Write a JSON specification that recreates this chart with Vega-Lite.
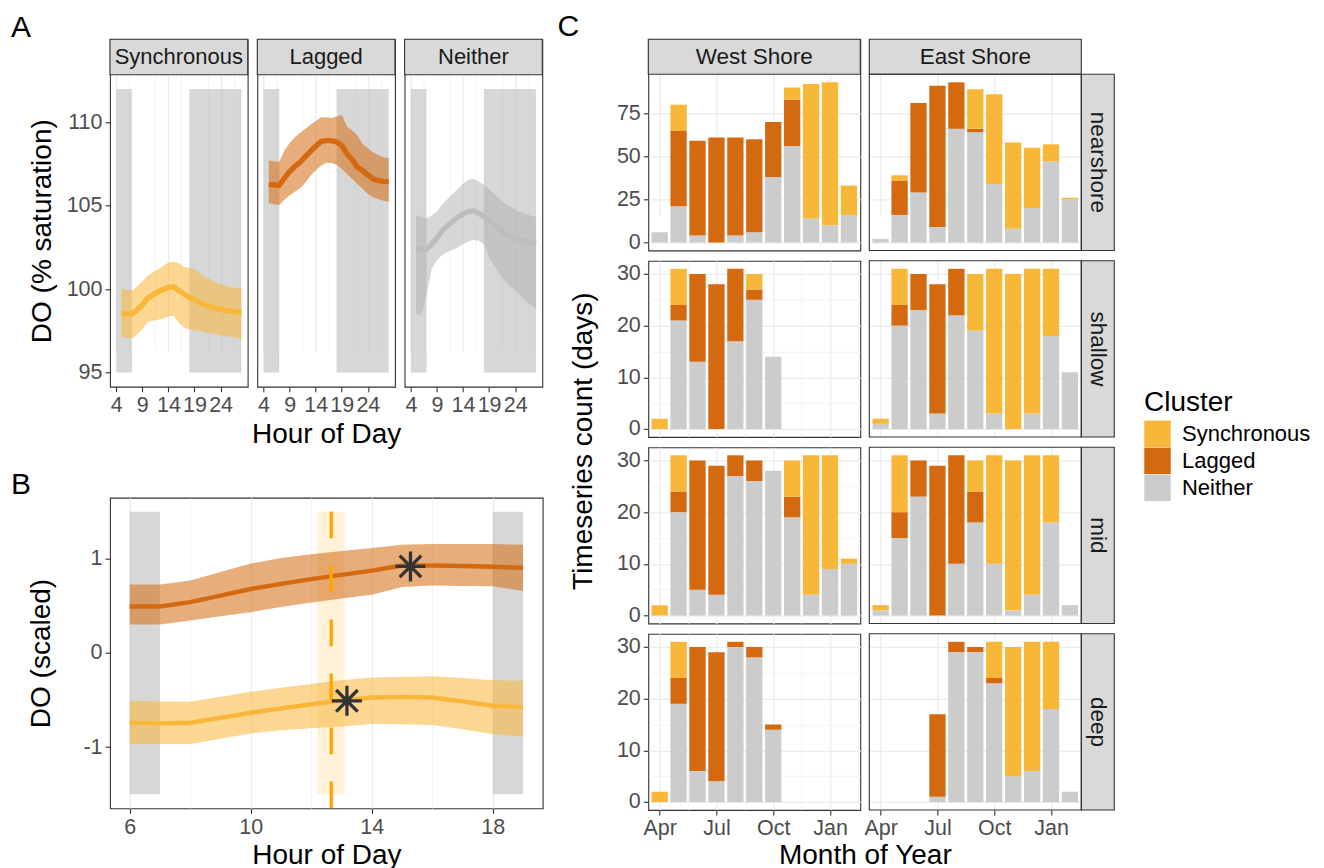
{
"$schema": "https://vega.github.io/schema/vega-lite/v6.json",
"padding": {"left": 10, "top": 11.3, "right": 5, "bottom": 0},
"datasets": {
"lineA": [
{"cluster":"Synchronous","hour":5,"mean":98.58,"lo":97.14,"hi":100.02},
{"cluster":"Synchronous","hour":6,"mean":98.52,"lo":97.08,"hi":99.96},
{"cluster":"Synchronous","hour":7,"mean":98.5,"lo":97.04,"hi":99.9},
{"cluster":"Synchronous","hour":8,"mean":98.75,"lo":97.3,"hi":100.15},
{"cluster":"Synchronous","hour":9,"mean":99.05,"lo":97.6,"hi":100.45},
{"cluster":"Synchronous","hour":10,"mean":99.45,"lo":98.0,"hi":100.8},
{"cluster":"Synchronous","hour":11,"mean":99.65,"lo":98.1,"hi":101.0},
{"cluster":"Synchronous","hour":12,"mean":99.83,"lo":98.17,"hi":101.17},
{"cluster":"Synchronous","hour":13,"mean":99.98,"lo":98.22,"hi":101.4},
{"cluster":"Synchronous","hour":14,"mean":100.1,"lo":98.35,"hi":101.6},
{"cluster":"Synchronous","hour":15,"mean":100.15,"lo":98.4,"hi":101.64},
{"cluster":"Synchronous","hour":16,"mean":99.9,"lo":97.95,"hi":101.55},
{"cluster":"Synchronous","hour":17,"mean":99.7,"lo":97.7,"hi":101.32},
{"cluster":"Synchronous","hour":18,"mean":99.5,"lo":97.58,"hi":101.26},
{"cluster":"Synchronous","hour":19,"mean":99.36,"lo":97.53,"hi":101.2},
{"cluster":"Synchronous","hour":20,"mean":99.18,"lo":97.47,"hi":100.95},
{"cluster":"Synchronous","hour":21,"mean":99.08,"lo":97.42,"hi":100.74},
{"cluster":"Synchronous","hour":22,"mean":98.95,"lo":97.35,"hi":100.6},
{"cluster":"Synchronous","hour":23,"mean":98.84,"lo":97.28,"hi":100.4},
{"cluster":"Synchronous","hour":24,"mean":98.78,"lo":97.22,"hi":100.3},
{"cluster":"Synchronous","hour":25,"mean":98.72,"lo":97.18,"hi":100.18},
{"cluster":"Synchronous","hour":26,"mean":98.68,"lo":97.14,"hi":100.1},
{"cluster":"Synchronous","hour":27,"mean":98.64,"lo":97.08,"hi":100.06},
{"cluster":"Synchronous","hour":28,"mean":98.6,"lo":96.98,"hi":100.04},
{"cluster":"Lagged","hour":5,"mean":106.28,"lo":105.14,"hi":107.7},
{"cluster":"Lagged","hour":6,"mean":106.25,"lo":105.08,"hi":107.67},
{"cluster":"Lagged","hour":7,"mean":106.22,"lo":105.04,"hi":107.64},
{"cluster":"Lagged","hour":8,"mean":106.65,"lo":105.35,"hi":108.3},
{"cluster":"Lagged","hour":9,"mean":107.05,"lo":105.62,"hi":108.75},
{"cluster":"Lagged","hour":10,"mean":107.35,"lo":105.84,"hi":109.1},
{"cluster":"Lagged","hour":11,"mean":107.6,"lo":106.05,"hi":109.35},
{"cluster":"Lagged","hour":12,"mean":107.94,"lo":106.38,"hi":109.6},
{"cluster":"Lagged","hour":13,"mean":108.25,"lo":106.8,"hi":109.85},
{"cluster":"Lagged","hour":14,"mean":108.56,"lo":107.13,"hi":110.07},
{"cluster":"Lagged","hour":15,"mean":108.85,"lo":107.4,"hi":110.3},
{"cluster":"Lagged","hour":16,"mean":108.9,"lo":107.58,"hi":110.3},
{"cluster":"Lagged","hour":17,"mean":108.9,"lo":107.56,"hi":110.25},
{"cluster":"Lagged","hour":18,"mean":108.82,"lo":107.46,"hi":110.35},
{"cluster":"Lagged","hour":19,"mean":108.6,"lo":107.2,"hi":110.44},
{"cluster":"Lagged","hour":20,"mean":108.1,"lo":106.9,"hi":109.75},
{"cluster":"Lagged","hour":21,"mean":107.75,"lo":106.6,"hi":109.5},
{"cluster":"Lagged","hour":22,"mean":107.32,"lo":106.3,"hi":109.2},
{"cluster":"Lagged","hour":23,"mean":107.1,"lo":106.0,"hi":108.7},
{"cluster":"Lagged","hour":24,"mean":106.85,"lo":105.7,"hi":108.45},
{"cluster":"Lagged","hour":25,"mean":106.6,"lo":105.5,"hi":108.18},
{"cluster":"Lagged","hour":26,"mean":106.5,"lo":105.38,"hi":108.04},
{"cluster":"Lagged","hour":27,"mean":106.46,"lo":105.3,"hi":107.9},
{"cluster":"Lagged","hour":28,"mean":106.44,"lo":105.24,"hi":107.84},
{"cluster":"Neither","hour":5,"mean":102.44,"lo":98.54,"hi":104.44},
{"cluster":"Neither","hour":6,"mean":102.4,"lo":98.4,"hi":104.3},
{"cluster":"Neither","hour":7,"mean":102.4,"lo":99.6,"hi":104.25},
{"cluster":"Neither","hour":8,"mean":102.7,"lo":101.2,"hi":104.4},
{"cluster":"Neither","hour":9,"mean":103.05,"lo":101.75,"hi":104.65},
{"cluster":"Neither","hour":10,"mean":103.5,"lo":102.05,"hi":105.05},
{"cluster":"Neither","hour":11,"mean":103.8,"lo":102.22,"hi":105.4},
{"cluster":"Neither","hour":12,"mean":104.05,"lo":102.35,"hi":105.7},
{"cluster":"Neither","hour":13,"mean":104.3,"lo":102.5,"hi":106.0},
{"cluster":"Neither","hour":14,"mean":104.5,"lo":102.7,"hi":106.3},
{"cluster":"Neither","hour":15,"mean":104.65,"lo":102.85,"hi":106.55},
{"cluster":"Neither","hour":16,"mean":104.7,"lo":102.95,"hi":106.62},
{"cluster":"Neither","hour":17,"mean":104.55,"lo":102.9,"hi":106.45},
{"cluster":"Neither","hour":18,"mean":104.35,"lo":102.7,"hi":106.25},
{"cluster":"Neither","hour":19,"mean":104.1,"lo":101.9,"hi":106.0},
{"cluster":"Neither","hour":20,"mean":103.86,"lo":101.4,"hi":105.7},
{"cluster":"Neither","hour":21,"mean":103.6,"lo":100.9,"hi":105.4},
{"cluster":"Neither","hour":22,"mean":103.35,"lo":100.5,"hi":105.15},
{"cluster":"Neither","hour":23,"mean":103.2,"lo":100.15,"hi":104.95},
{"cluster":"Neither","hour":24,"mean":103.05,"lo":99.95,"hi":104.75},
{"cluster":"Neither","hour":25,"mean":102.95,"lo":99.6,"hi":104.62},
{"cluster":"Neither","hour":26,"mean":102.88,"lo":99.3,"hi":104.5},
{"cluster":"Neither","hour":27,"mean":102.8,"lo":99.05,"hi":104.4},
{"cluster":"Neither","hour":28,"mean":102.74,"lo":98.84,"hi":104.33}
],
"lineB": [
{"cluster":"Lagged","hour":6,"mean":0.494,"lo":0.303,"hi":0.727},
{"cluster":"Lagged","hour":7,"mean":0.494,"lo":0.303,"hi":0.727},
{"cluster":"Lagged","hour":8,"mean":0.54,"lo":0.346,"hi":0.77},
{"cluster":"Lagged","hour":9,"mean":0.61,"lo":0.39,"hi":0.86},
{"cluster":"Lagged","hour":10,"mean":0.68,"lo":0.434,"hi":0.95},
{"cluster":"Lagged","hour":11,"mean":0.735,"lo":0.49,"hi":1.01},
{"cluster":"Lagged","hour":12,"mean":0.785,"lo":0.537,"hi":1.05},
{"cluster":"Lagged","hour":13,"mean":0.83,"lo":0.58,"hi":1.085},
{"cluster":"Lagged","hour":14,"mean":0.875,"lo":0.62,"hi":1.115},
{"cluster":"Lagged","hour":15,"mean":0.93,"lo":0.7,"hi":1.15},
{"cluster":"Lagged","hour":16,"mean":0.93,"lo":0.716,"hi":1.157},
{"cluster":"Lagged","hour":17,"mean":0.925,"lo":0.712,"hi":1.157},
{"cluster":"Lagged","hour":18,"mean":0.917,"lo":0.709,"hi":1.157},
{"cluster":"Lagged","hour":19,"mean":0.905,"lo":0.66,"hi":1.15},
{"cluster":"Synchronous","hour":6,"mean":-0.741,"lo":-0.966,"hi":-0.508},
{"cluster":"Synchronous","hour":7,"mean":-0.748,"lo":-0.966,"hi":-0.515},
{"cluster":"Synchronous","hour":8,"mean":-0.741,"lo":-0.966,"hi":-0.519},
{"cluster":"Synchronous","hour":9,"mean":-0.69,"lo":-0.91,"hi":-0.466},
{"cluster":"Synchronous","hour":10,"mean":-0.635,"lo":-0.854,"hi":-0.413},
{"cluster":"Synchronous","hour":11,"mean":-0.59,"lo":-0.822,"hi":-0.37},
{"cluster":"Synchronous","hour":12,"mean":-0.545,"lo":-0.8,"hi":-0.33},
{"cluster":"Synchronous","hour":13,"mean":-0.505,"lo":-0.78,"hi":-0.29},
{"cluster":"Synchronous","hour":14,"mean":-0.473,"lo":-0.755,"hi":-0.261},
{"cluster":"Synchronous","hour":15,"mean":-0.466,"lo":-0.758,"hi":-0.252},
{"cluster":"Synchronous","hour":16,"mean":-0.473,"lo":-0.765,"hi":-0.247},
{"cluster":"Synchronous","hour":17,"mean":-0.515,"lo":-0.81,"hi":-0.265},
{"cluster":"Synchronous","hour":18,"mean":-0.561,"lo":-0.861,"hi":-0.289},
{"cluster":"Synchronous","hour":19,"mean":-0.575,"lo":-0.89,"hi":-0.296}
],
"nightA": [{"start":4,"end":7},{"start":18,"end":28}],
"nightB": [{"start":6,"end":7},{"start":18,"end":19}],
"peaks": [{"cluster":"Lagged","hour":15.28,"value":0.92},{"cluster":"Synchronous","hour":13.18,"value":-0.508}],
"onset": [{"hour":12.66,"lo":12.2,"hi":13.1}],
"counts": [
{"depth":"nearshore","shore":"West Shore","month":4,"cluster":"Neither","n":6},
{"depth":"nearshore","shore":"West Shore","month":5,"cluster":"Neither","n":21},
{"depth":"nearshore","shore":"West Shore","month":5,"cluster":"Lagged","n":44},
{"depth":"nearshore","shore":"West Shore","month":5,"cluster":"Synchronous","n":15},
{"depth":"nearshore","shore":"West Shore","month":6,"cluster":"Neither","n":4},
{"depth":"nearshore","shore":"West Shore","month":6,"cluster":"Lagged","n":55},
{"depth":"nearshore","shore":"West Shore","month":7,"cluster":"Lagged","n":61},
{"depth":"nearshore","shore":"West Shore","month":8,"cluster":"Neither","n":4},
{"depth":"nearshore","shore":"West Shore","month":8,"cluster":"Lagged","n":57},
{"depth":"nearshore","shore":"West Shore","month":9,"cluster":"Neither","n":6},
{"depth":"nearshore","shore":"West Shore","month":9,"cluster":"Lagged","n":54},
{"depth":"nearshore","shore":"West Shore","month":10,"cluster":"Neither","n":38},
{"depth":"nearshore","shore":"West Shore","month":10,"cluster":"Lagged","n":32},
{"depth":"nearshore","shore":"West Shore","month":11,"cluster":"Neither","n":56},
{"depth":"nearshore","shore":"West Shore","month":11,"cluster":"Lagged","n":27},
{"depth":"nearshore","shore":"West Shore","month":11,"cluster":"Synchronous","n":7},
{"depth":"nearshore","shore":"West Shore","month":12,"cluster":"Neither","n":14},
{"depth":"nearshore","shore":"West Shore","month":12,"cluster":"Synchronous","n":78},
{"depth":"nearshore","shore":"West Shore","month":13,"cluster":"Neither","n":10},
{"depth":"nearshore","shore":"West Shore","month":13,"cluster":"Synchronous","n":83},
{"depth":"nearshore","shore":"West Shore","month":14,"cluster":"Neither","n":16},
{"depth":"nearshore","shore":"West Shore","month":14,"cluster":"Synchronous","n":17},
{"depth":"nearshore","shore":"East Shore","month":4,"cluster":"Neither","n":2},
{"depth":"nearshore","shore":"East Shore","month":5,"cluster":"Neither","n":16},
{"depth":"nearshore","shore":"East Shore","month":5,"cluster":"Lagged","n":20},
{"depth":"nearshore","shore":"East Shore","month":5,"cluster":"Synchronous","n":3},
{"depth":"nearshore","shore":"East Shore","month":6,"cluster":"Neither","n":29},
{"depth":"nearshore","shore":"East Shore","month":6,"cluster":"Lagged","n":52},
{"depth":"nearshore","shore":"East Shore","month":7,"cluster":"Neither","n":9},
{"depth":"nearshore","shore":"East Shore","month":7,"cluster":"Lagged","n":82},
{"depth":"nearshore","shore":"East Shore","month":8,"cluster":"Neither","n":66},
{"depth":"nearshore","shore":"East Shore","month":8,"cluster":"Lagged","n":27},
{"depth":"nearshore","shore":"East Shore","month":9,"cluster":"Neither","n":64},
{"depth":"nearshore","shore":"East Shore","month":9,"cluster":"Lagged","n":2},
{"depth":"nearshore","shore":"East Shore","month":9,"cluster":"Synchronous","n":23},
{"depth":"nearshore","shore":"East Shore","month":10,"cluster":"Neither","n":34},
{"depth":"nearshore","shore":"East Shore","month":10,"cluster":"Synchronous","n":52},
{"depth":"nearshore","shore":"East Shore","month":11,"cluster":"Neither","n":8},
{"depth":"nearshore","shore":"East Shore","month":11,"cluster":"Synchronous","n":50},
{"depth":"nearshore","shore":"East Shore","month":12,"cluster":"Neither","n":20},
{"depth":"nearshore","shore":"East Shore","month":12,"cluster":"Synchronous","n":35},
{"depth":"nearshore","shore":"East Shore","month":13,"cluster":"Neither","n":47},
{"depth":"nearshore","shore":"East Shore","month":13,"cluster":"Synchronous","n":10},
{"depth":"nearshore","shore":"East Shore","month":14,"cluster":"Neither","n":25},
{"depth":"nearshore","shore":"East Shore","month":14,"cluster":"Synchronous","n":1},
{"depth":"shallow","shore":"West Shore","month":4,"cluster":"Synchronous","n":2},
{"depth":"shallow","shore":"West Shore","month":5,"cluster":"Neither","n":21},
{"depth":"shallow","shore":"West Shore","month":5,"cluster":"Lagged","n":3},
{"depth":"shallow","shore":"West Shore","month":5,"cluster":"Synchronous","n":7},
{"depth":"shallow","shore":"West Shore","month":6,"cluster":"Neither","n":13},
{"depth":"shallow","shore":"West Shore","month":6,"cluster":"Lagged","n":17},
{"depth":"shallow","shore":"West Shore","month":7,"cluster":"Lagged","n":28},
{"depth":"shallow","shore":"West Shore","month":8,"cluster":"Neither","n":17},
{"depth":"shallow","shore":"West Shore","month":8,"cluster":"Lagged","n":14},
{"depth":"shallow","shore":"West Shore","month":9,"cluster":"Neither","n":25},
{"depth":"shallow","shore":"West Shore","month":9,"cluster":"Lagged","n":2},
{"depth":"shallow","shore":"West Shore","month":9,"cluster":"Synchronous","n":3},
{"depth":"shallow","shore":"West Shore","month":10,"cluster":"Neither","n":14},
{"depth":"shallow","shore":"East Shore","month":4,"cluster":"Neither","n":1},
{"depth":"shallow","shore":"East Shore","month":4,"cluster":"Synchronous","n":1},
{"depth":"shallow","shore":"East Shore","month":5,"cluster":"Neither","n":20},
{"depth":"shallow","shore":"East Shore","month":5,"cluster":"Lagged","n":4},
{"depth":"shallow","shore":"East Shore","month":5,"cluster":"Synchronous","n":7},
{"depth":"shallow","shore":"East Shore","month":6,"cluster":"Neither","n":23},
{"depth":"shallow","shore":"East Shore","month":6,"cluster":"Lagged","n":7},
{"depth":"shallow","shore":"East Shore","month":7,"cluster":"Neither","n":3},
{"depth":"shallow","shore":"East Shore","month":7,"cluster":"Lagged","n":25},
{"depth":"shallow","shore":"East Shore","month":8,"cluster":"Neither","n":22},
{"depth":"shallow","shore":"East Shore","month":8,"cluster":"Lagged","n":9},
{"depth":"shallow","shore":"East Shore","month":9,"cluster":"Neither","n":19},
{"depth":"shallow","shore":"East Shore","month":9,"cluster":"Synchronous","n":11},
{"depth":"shallow","shore":"East Shore","month":10,"cluster":"Neither","n":3},
{"depth":"shallow","shore":"East Shore","month":10,"cluster":"Synchronous","n":28},
{"depth":"shallow","shore":"East Shore","month":11,"cluster":"Synchronous","n":30},
{"depth":"shallow","shore":"East Shore","month":12,"cluster":"Neither","n":3},
{"depth":"shallow","shore":"East Shore","month":12,"cluster":"Synchronous","n":28},
{"depth":"shallow","shore":"East Shore","month":13,"cluster":"Neither","n":18},
{"depth":"shallow","shore":"East Shore","month":13,"cluster":"Synchronous","n":13},
{"depth":"shallow","shore":"East Shore","month":14,"cluster":"Neither","n":11},
{"depth":"mid","shore":"West Shore","month":4,"cluster":"Synchronous","n":2},
{"depth":"mid","shore":"West Shore","month":5,"cluster":"Neither","n":20},
{"depth":"mid","shore":"West Shore","month":5,"cluster":"Lagged","n":4},
{"depth":"mid","shore":"West Shore","month":5,"cluster":"Synchronous","n":7},
{"depth":"mid","shore":"West Shore","month":6,"cluster":"Neither","n":5},
{"depth":"mid","shore":"West Shore","month":6,"cluster":"Lagged","n":25},
{"depth":"mid","shore":"West Shore","month":7,"cluster":"Neither","n":4},
{"depth":"mid","shore":"West Shore","month":7,"cluster":"Lagged","n":25},
{"depth":"mid","shore":"West Shore","month":8,"cluster":"Neither","n":27},
{"depth":"mid","shore":"West Shore","month":8,"cluster":"Lagged","n":4},
{"depth":"mid","shore":"West Shore","month":9,"cluster":"Neither","n":26},
{"depth":"mid","shore":"West Shore","month":9,"cluster":"Lagged","n":4},
{"depth":"mid","shore":"West Shore","month":10,"cluster":"Neither","n":28},
{"depth":"mid","shore":"West Shore","month":11,"cluster":"Neither","n":19},
{"depth":"mid","shore":"West Shore","month":11,"cluster":"Lagged","n":4},
{"depth":"mid","shore":"West Shore","month":11,"cluster":"Synchronous","n":7},
{"depth":"mid","shore":"West Shore","month":12,"cluster":"Neither","n":4},
{"depth":"mid","shore":"West Shore","month":12,"cluster":"Synchronous","n":27},
{"depth":"mid","shore":"West Shore","month":13,"cluster":"Neither","n":9},
{"depth":"mid","shore":"West Shore","month":13,"cluster":"Synchronous","n":22},
{"depth":"mid","shore":"West Shore","month":14,"cluster":"Neither","n":10},
{"depth":"mid","shore":"West Shore","month":14,"cluster":"Synchronous","n":1},
{"depth":"mid","shore":"East Shore","month":4,"cluster":"Neither","n":1},
{"depth":"mid","shore":"East Shore","month":4,"cluster":"Synchronous","n":1},
{"depth":"mid","shore":"East Shore","month":5,"cluster":"Neither","n":15},
{"depth":"mid","shore":"East Shore","month":5,"cluster":"Lagged","n":5},
{"depth":"mid","shore":"East Shore","month":5,"cluster":"Synchronous","n":11},
{"depth":"mid","shore":"East Shore","month":6,"cluster":"Neither","n":23},
{"depth":"mid","shore":"East Shore","month":6,"cluster":"Lagged","n":7},
{"depth":"mid","shore":"East Shore","month":7,"cluster":"Lagged","n":29},
{"depth":"mid","shore":"East Shore","month":8,"cluster":"Neither","n":10},
{"depth":"mid","shore":"East Shore","month":8,"cluster":"Lagged","n":21},
{"depth":"mid","shore":"East Shore","month":9,"cluster":"Neither","n":18},
{"depth":"mid","shore":"East Shore","month":9,"cluster":"Lagged","n":6},
{"depth":"mid","shore":"East Shore","month":9,"cluster":"Synchronous","n":6},
{"depth":"mid","shore":"East Shore","month":10,"cluster":"Neither","n":10},
{"depth":"mid","shore":"East Shore","month":10,"cluster":"Synchronous","n":21},
{"depth":"mid","shore":"East Shore","month":11,"cluster":"Neither","n":1},
{"depth":"mid","shore":"East Shore","month":11,"cluster":"Synchronous","n":29},
{"depth":"mid","shore":"East Shore","month":12,"cluster":"Neither","n":4},
{"depth":"mid","shore":"East Shore","month":12,"cluster":"Synchronous","n":27},
{"depth":"mid","shore":"East Shore","month":13,"cluster":"Neither","n":18},
{"depth":"mid","shore":"East Shore","month":13,"cluster":"Synchronous","n":13},
{"depth":"mid","shore":"East Shore","month":14,"cluster":"Neither","n":2},
{"depth":"deep","shore":"West Shore","month":4,"cluster":"Synchronous","n":2},
{"depth":"deep","shore":"West Shore","month":5,"cluster":"Neither","n":19},
{"depth":"deep","shore":"West Shore","month":5,"cluster":"Lagged","n":5},
{"depth":"deep","shore":"West Shore","month":5,"cluster":"Synchronous","n":7},
{"depth":"deep","shore":"West Shore","month":6,"cluster":"Neither","n":6},
{"depth":"deep","shore":"West Shore","month":6,"cluster":"Lagged","n":24},
{"depth":"deep","shore":"West Shore","month":7,"cluster":"Neither","n":4},
{"depth":"deep","shore":"West Shore","month":7,"cluster":"Lagged","n":25},
{"depth":"deep","shore":"West Shore","month":8,"cluster":"Neither","n":30},
{"depth":"deep","shore":"West Shore","month":8,"cluster":"Lagged","n":1},
{"depth":"deep","shore":"West Shore","month":9,"cluster":"Neither","n":28},
{"depth":"deep","shore":"West Shore","month":9,"cluster":"Lagged","n":2},
{"depth":"deep","shore":"West Shore","month":10,"cluster":"Neither","n":14},
{"depth":"deep","shore":"West Shore","month":10,"cluster":"Lagged","n":1},
{"depth":"deep","shore":"East Shore","month":7,"cluster":"Neither","n":1},
{"depth":"deep","shore":"East Shore","month":7,"cluster":"Lagged","n":16},
{"depth":"deep","shore":"East Shore","month":8,"cluster":"Neither","n":29},
{"depth":"deep","shore":"East Shore","month":8,"cluster":"Lagged","n":2},
{"depth":"deep","shore":"East Shore","month":9,"cluster":"Neither","n":29},
{"depth":"deep","shore":"East Shore","month":9,"cluster":"Lagged","n":1},
{"depth":"deep","shore":"East Shore","month":10,"cluster":"Neither","n":23},
{"depth":"deep","shore":"East Shore","month":10,"cluster":"Lagged","n":1},
{"depth":"deep","shore":"East Shore","month":10,"cluster":"Synchronous","n":7},
{"depth":"deep","shore":"East Shore","month":11,"cluster":"Neither","n":5},
{"depth":"deep","shore":"East Shore","month":11,"cluster":"Synchronous","n":25},
{"depth":"deep","shore":"East Shore","month":12,"cluster":"Neither","n":6},
{"depth":"deep","shore":"East Shore","month":12,"cluster":"Synchronous","n":25},
{"depth":"deep","shore":"East Shore","month":13,"cluster":"Neither","n":18},
{"depth":"deep","shore":"East Shore","month":13,"cluster":"Synchronous","n":13},
{"depth":"deep","shore":"East Shore","month":14,"cluster":"Neither","n":2}
]
},
"spacing": 9.3,
"hconcat": [
{
"spacing": 19.4,
"vconcat": [
{"spacing": 9.3, "bounds": "flush", "hconcat": [
{"title": {"text": "A", "dx": -99, "offset": -4},
"width": 137.7, "height": 347.4,
"resolve": {"axis": {"x": "independent"}},
"layer": [
{"data": {"name": "nightA"}, "mark": {"type": "rect", "color": "#BDBDBD", "opacity": 0.6},
"encoding": {
"x": {"field": "start", "type": "quantitative", "scale": {"domain": [2.8, 29.2], "nice": false, "zero": false}, "axis": {"orient": "bottom", "title": null, "labelOverlap": false, "values": [4,6.5,11.5,14,16.5,21.5,24,26.5], "labelExpr": "datum.value % 10 == 4 ? datum.label : ''", "tickOpacity": {"condition": {"test": "datum.value % 10 != 4", "value": 0}, "value": 1}, "gridWidth": {"condition": {"test": "datum.value % 5 != 4", "value": 0.6}, "value": 1.2}}},
"x2": {"field": "end"},
"y": {"datum": 95, "type": "quantitative", "scale": {"domain": [94.15, 112.85], "range": [347.4, 35.4], "nice": false, "zero": false}, "axis": {"title": "DO (% saturation)", "titlePadding": 10, "values": [95,97.5,100,102.5,105,107.5,110,112.5], "labelExpr": "datum.value % 5 == 0 ? datum.label : ''", "tickOpacity": {"condition": {"test": "datum.value % 5 != 0", "value": 0}, "value": 1}, "gridWidth": {"condition": {"test": "datum.value % 5 != 0", "value": 0.6}, "value": 1.2}}},
"y2": {"datum": 112}}},
{"data": {"name": "lineA"}, "transform": [{"filter": "datum.cluster == 'Synchronous'"}], "mark": {"type": "area", "color": "#F8B739", "opacity": 0.55}, "encoding": {"x": {"field": "hour", "type": "quantitative", "axis": {"orient": "bottom", "title": null, "labelOverlap": false, "values": [9, 19], "gridWidth": 1.2}}, "y": {"field": "lo", "type": "quantitative"}, "y2": {"field": "hi"}}},
{"data": {"name": "lineA"}, "transform": [{"filter": "datum.cluster == 'Synchronous'"}], "mark": {"type": "line", "color": "#F8B739", "strokeWidth": 5.3}, "encoding": {"x": {"field": "hour", "type": "quantitative", "axis": null}, "y": {"field": "mean", "type": "quantitative"}}},
{"data": {"values": [{"lab": "Synchronous"}]}, "mark": {"type": "rect", "fill": "#D9D9D9", "stroke": "#333333", "strokeWidth": 1.1}, "encoding": {"x": {"datum": 2.8, "type": "quantitative", "axis": null}, "x2": {"datum": 29.2}, "y": {"datum": 112.85, "type": "quantitative"}, "y2": {"datum": 114.972}}},
{"data": {"values": [{"lab": "Synchronous"}]}, "mark": {"type": "text", "fontSize": 22, "color": "#1A1A1A"}, "encoding": {"x": {"datum": 16, "type": "quantitative", "axis": null}, "y": {"datum": 113.91, "type": "quantitative"}, "text": {"field": "lab"}}}
]},
{"width": 137.7, "height": 347.4,
"resolve": {"axis": {"x": "independent"}},
"layer": [
{"data": {"name": "nightA"}, "mark": {"type": "rect", "color": "#BDBDBD", "opacity": 0.6},
"encoding": {
"x": {"field": "start", "type": "quantitative", "scale": {"domain": [2.8, 29.2], "nice": false, "zero": false}, "axis": {"orient": "bottom", "title": "Hour of Day", "labelOverlap": false, "values": [4,6.5,11.5,14,16.5,21.5,24,26.5], "labelExpr": "datum.value % 10 == 4 ? datum.label : ''", "tickOpacity": {"condition": {"test": "datum.value % 10 != 4", "value": 0}, "value": 1}, "gridWidth": {"condition": {"test": "datum.value % 5 != 4", "value": 0.6}, "value": 1.2}}},
"x2": {"field": "end"},
"y": {"datum": 95, "type": "quantitative", "scale": {"domain": [94.15, 112.85], "range": [347.4, 35.4], "nice": false, "zero": false}, "axis": {"title": null, "labels": false, "ticks": false, "titlePadding": 0, "minExtent": 0, "maxExtent": 0, "values": [95,97.5,100,102.5,105,107.5,110,112.5], "gridWidth": {"condition": {"test": "datum.value % 5 != 0", "value": 0.6}, "value": 1.2}}},
"y2": {"datum": 112}}},
{"data": {"name": "lineA"}, "transform": [{"filter": "datum.cluster == 'Lagged'"}], "mark": {"type": "area", "color": "#D4690F", "opacity": 0.55}, "encoding": {"x": {"field": "hour", "type": "quantitative", "axis": {"orient": "bottom", "title": null, "labelOverlap": false, "values": [9, 19], "gridWidth": 1.2}}, "y": {"field": "lo", "type": "quantitative"}, "y2": {"field": "hi"}}},
{"data": {"name": "lineA"}, "transform": [{"filter": "datum.cluster == 'Lagged'"}], "mark": {"type": "line", "color": "#D4690F", "strokeWidth": 5.3}, "encoding": {"x": {"field": "hour", "type": "quantitative", "axis": null}, "y": {"field": "mean", "type": "quantitative"}}},
{"data": {"values": [{"lab": "Lagged"}]}, "mark": {"type": "rect", "fill": "#D9D9D9", "stroke": "#333333", "strokeWidth": 1.1}, "encoding": {"x": {"datum": 2.8, "type": "quantitative", "axis": null}, "x2": {"datum": 29.2}, "y": {"datum": 112.85, "type": "quantitative"}, "y2": {"datum": 114.972}}},
{"data": {"values": [{"lab": "Lagged"}]}, "mark": {"type": "text", "fontSize": 22, "color": "#1A1A1A"}, "encoding": {"x": {"datum": 16, "type": "quantitative", "axis": null}, "y": {"datum": 113.91, "type": "quantitative"}, "text": {"field": "lab"}}}
]},
{"width": 137.7, "height": 347.4,
"resolve": {"axis": {"x": "independent"}},
"layer": [
{"data": {"name": "nightA"}, "mark": {"type": "rect", "color": "#BDBDBD", "opacity": 0.6},
"encoding": {
"x": {"field": "start", "type": "quantitative", "scale": {"domain": [2.8, 29.2], "nice": false, "zero": false}, "axis": {"orient": "bottom", "title": null, "labelOverlap": false, "values": [4,6.5,11.5,14,16.5,21.5,24,26.5], "labelExpr": "datum.value % 10 == 4 ? datum.label : ''", "tickOpacity": {"condition": {"test": "datum.value % 10 != 4", "value": 0}, "value": 1}, "gridWidth": {"condition": {"test": "datum.value % 5 != 4", "value": 0.6}, "value": 1.2}}},
"x2": {"field": "end"},
"y": {"datum": 95, "type": "quantitative", "scale": {"domain": [94.15, 112.85], "range": [347.4, 35.4], "nice": false, "zero": false}, "axis": {"title": null, "labels": false, "ticks": false, "titlePadding": 0, "minExtent": 0, "maxExtent": 0, "values": [95,97.5,100,102.5,105,107.5,110,112.5], "gridWidth": {"condition": {"test": "datum.value % 5 != 0", "value": 0.6}, "value": 1.2}}},
"y2": {"datum": 112}}},
{"data": {"name": "lineA"}, "transform": [{"filter": "datum.cluster == 'Neither'"}], "mark": {"type": "area", "color": "#B0B0B0", "opacity": 0.5}, "encoding": {"x": {"field": "hour", "type": "quantitative", "axis": {"orient": "bottom", "title": null, "labelOverlap": false, "values": [9, 19], "gridWidth": 1.2}}, "y": {"field": "lo", "type": "quantitative"}, "y2": {"field": "hi"}}},
{"data": {"name": "lineA"}, "transform": [{"filter": "datum.cluster == 'Neither'"}], "mark": {"type": "line", "color": "#BDBDBD", "strokeWidth": 5.3}, "encoding": {"x": {"field": "hour", "type": "quantitative", "axis": null}, "y": {"field": "mean", "type": "quantitative"}}},
{"data": {"values": [{"lab": "Neither"}]}, "mark": {"type": "rect", "fill": "#D9D9D9", "stroke": "#333333", "strokeWidth": 1.1}, "encoding": {"x": {"datum": 2.8, "type": "quantitative", "axis": null}, "x2": {"datum": 29.2}, "y": {"datum": 112.85, "type": "quantitative"}, "y2": {"datum": 114.972}}},
{"data": {"values": [{"lab": "Neither"}]}, "mark": {"type": "text", "fontSize": 22, "color": "#1A1A1A"}, "encoding": {"x": {"datum": 16, "type": "quantitative", "axis": null}, "y": {"datum": 113.91, "type": "quantitative"}, "text": {"field": "lab"}}}
]}
]},
{
"title": {"text": "B", "dx": -99, "offset": -4},
"width": 432.7, "height": 310.6,
"layer": [
{"data": {"name": "nightB"}, "mark": {"type": "rect", "color": "#BDBDBD", "opacity": 0.6},
"encoding": {
"x": {"field": "start", "type": "quantitative", "scale": {"domain": [5.35, 19.65], "nice": false, "zero": false}, "axis": {"title": "Hour of Day", "labelOverlap": false, "values": [6,8,10,12,14,16,18], "labelExpr": "datum.value % 4 == 2 ? datum.label : ''", "tickOpacity": {"condition": {"test": "datum.value % 4 != 2", "value": 0}, "value": 1}, "gridWidth": {"condition": {"test": "datum.value % 4 != 2", "value": 0.6}, "value": 1.2}}},
"x2": {"field": "end"},
"y": {"datum": -1.5, "type": "quantitative", "scale": {"domain": [-1.65, 1.65], "nice": false, "zero": false}, "axis": {"title": "DO (scaled)", "titlePadding": 27, "labelOverlap": false, "values": [-1.5,-1,-0.5,0,0.5,1,1.5], "labelExpr": "datum.value == -1 ? '-1' : datum.value == 0 ? '0' : datum.value == 1 ? '1' : ''", "tickOpacity": {"condition": {"test": "datum.value % 1 != 0", "value": 0}, "value": 1}, "gridWidth": {"condition": {"test": "datum.value % 1 != 0", "value": 0.6}, "value": 1.2}}},
"y2": {"datum": 1.5}}},
{"data": {"name": "onset"}, "mark": {"type": "rect", "color": "#FFA500", "opacity": 0.15},
"encoding": {"x": {"field": "lo", "type": "quantitative"}, "x2": {"field": "hi"}, "y": {"datum": -1.5, "type": "quantitative"}, "y2": {"datum": 1.5}}},
{"data": {"name": "lineB"}, "transform": [{"filter": "datum.cluster == 'Lagged'"}], "mark": {"type": "area", "color": "#D4690F", "opacity": 0.55}, "encoding": {"x": {"field": "hour", "type": "quantitative"}, "y": {"field": "lo", "type": "quantitative"}, "y2": {"field": "hi"}}},
{"data": {"name": "lineB"}, "transform": [{"filter": "datum.cluster == 'Synchronous'"}], "mark": {"type": "area", "color": "#F8B739", "opacity": 0.55}, "encoding": {"x": {"field": "hour", "type": "quantitative"}, "y": {"field": "lo", "type": "quantitative"}, "y2": {"field": "hi"}}},
{"data": {"name": "lineB"}, "transform": [{"filter": "datum.cluster == 'Lagged'"}], "mark": {"type": "line", "color": "#D4690F", "strokeWidth": 4.4}, "encoding": {"x": {"field": "hour", "type": "quantitative"}, "y": {"field": "mean", "type": "quantitative"}}},
{"data": {"name": "lineB"}, "transform": [{"filter": "datum.cluster == 'Synchronous'"}], "mark": {"type": "line", "color": "#F8B739", "strokeWidth": 4.4}, "encoding": {"x": {"field": "hour", "type": "quantitative"}, "y": {"field": "mean", "type": "quantitative"}}},
{"data": {"name": "onset"}, "mark": {"type": "rule", "color": "#FFA500", "strokeWidth": 3.3, "strokeDash": [26.7, 27.3]},
"encoding": {"x": {"field": "hour", "type": "quantitative"}, "y": {"datum": -1.65, "type": "quantitative"}, "y2": {"datum": 1.65}}},
{"data": {"name": "peaks"}, "mark": {"type": "point", "shape": "M0,-1L0,1M-1,0L1,0M-0.72,-0.72L0.72,0.72M-0.72,0.72L0.72,-0.72", "filled": false, "stroke": "#333333", "strokeWidth": 3.3, "size": 900, "opacity": 1},
"encoding": {"x": {"field": "hour", "type": "quantitative"}, "y": {"field": "value", "type": "quantitative"}}}
]
}
]
},
{
"title": {"text": "C", "dx": -90.7, "offset": -4},
"vconcat": [
{
"title": {"text": "Timeseries count (days)", "orient": "left", "anchor": "middle", "frame": "bounds", "fontSize": 28, "offset": 18, "dx": 13},
"vconcat": [
{
"title": {"text": "Month of Year", "orient": "bottom", "anchor": "middle", "frame": "bounds", "fontSize": 28, "offset": 2},
"columns": 2,
"bounds": "flush",
"align": "each",
"spacing": {"row": 9.5, "column": 9},
"concat": [
{"width": 212, "height": 211.2, "layer": [
{"data": {"name": "counts"}, "transform": [{"filter": "datum.depth == 'nearshore' && datum.shore == 'West Shore'"}, {"calculate": "indexof(['Neither','Lagged','Synchronous'], datum.cluster)", "as": "rank"}], "mark": {"type": "bar", "width": 16.3},
"encoding": {
"x": {"field": "month", "type": "quantitative", "scale": {"domain": [3.4, 14.6], "padding": 0, "nice": false, "zero": false}, "axis": {"title": null, "labels": false, "ticks": false, "titlePadding": 0, "minExtent": 0, "maxExtent": 0, "values": [4,5.5,7,8.5,10,11.5,13,14.5], "gridWidth": {"condition": {"test": "datum.value % 3 != 1", "value": 0.6}, "value": 1.2}}},
"y": {"field": "n", "type": "quantitative", "stack": "zero", "scale": {"domain": [-4.65, 97.65], "range": [211.2, 35], "nice": false, "zero": false}, "axis": {"title": null, "labelOverlap": false, "values": [0,12.5,25,37.5,50,62.5,75,87.5], "labelExpr": "datum.value % 25 == 0 ? datum.label : ''", "tickOpacity": {"condition": {"test": "datum.value % 25 != 0", "value": 0}, "value": 1}, "gridWidth": {"condition": {"test": "datum.value % 25 != 0", "value": 0.6}, "value": 1.2}}},
"color": {"field": "cluster", "type": "nominal", "scale": {"domain": ["Synchronous","Lagged","Neither"], "range": ["#F8B739","#D4690F","#CCCCCC"]}, "legend": {"title": "Cluster", "orient": "none", "legendX": 1034, "legendY": 350}},
"order": {"field": "rank", "type": "quantitative"}}},
{"data": {"values": [{"lab": "West Shore"}]}, "mark": {"type": "rect", "fill": "#D9D9D9", "stroke": "#333333", "strokeWidth": 1.1}, "encoding": {"x": {"datum": 3.4, "type": "quantitative"}, "x2": {"datum": 14.6}, "y": {"datum": 97.65, "type": "quantitative"}, "y2": {"datum": 117.97}}},
{"data": {"values": [{"lab": "West Shore"}]}, "mark": {"type": "text", "fontSize": 22.5, "color": "#1A1A1A"}, "encoding": {"x": {"datum": 9, "type": "quantitative"}, "y": {"datum": 107.81, "type": "quantitative"}, "text": {"field": "lab"}}}
]},
{"width": 245, "height": 211.2, "view": {"stroke": null}, "layer": [
{"data": {"name": "counts"}, "transform": [{"filter": "datum.depth == 'nearshore' && datum.shore == 'East Shore'"}, {"calculate": "indexof(['Neither','Lagged','Synchronous'], datum.cluster)", "as": "rank"}], "mark": {"type": "bar", "width": 16.3},
"encoding": {
"x": {"field": "month", "type": "quantitative", "scale": {"domain": [3.4, 14.6], "range": [0, 212], "padding": 0, "nice": false, "zero": false}, "axis": {"title": null, "labels": false, "ticks": false, "titlePadding": 0, "minExtent": 0, "maxExtent": 0, "values": [4,5.5,7,8.5,10,11.5,13,14.5], "gridWidth": {"condition": {"test": "datum.value % 3 != 1", "value": 0.6}, "value": 1.2}}},
"y": {"field": "n", "type": "quantitative", "stack": "zero", "scale": {"domain": [-4.65, 97.65], "range": [211.2, 35], "nice": false, "zero": false}, "axis": {"title": null, "labels": false, "ticks": false, "titlePadding": 0, "minExtent": 0, "maxExtent": 0, "values": [0,12.5,25,37.5,50,62.5,75,87.5], "gridWidth": {"condition": {"test": "datum.value % 25 != 0", "value": 0.6}, "value": 1.2}}},
"color": {"field": "cluster", "type": "nominal", "scale": {"domain": ["Synchronous","Lagged","Neither"], "range": ["#F8B739","#D4690F","#CCCCCC"]}, "legend": {"title": "Cluster", "orient": "none", "legendX": 1034, "legendY": 350}},
"order": {"field": "rank", "type": "quantitative"}}},
{"data": {"values": [{"lab": "East Shore"}]}, "mark": {"type": "rect", "fill": "#D9D9D9", "stroke": "#333333", "strokeWidth": 1.1}, "encoding": {"x": {"datum": 3.4, "type": "quantitative"}, "x2": {"datum": 14.6}, "y": {"datum": 97.65, "type": "quantitative"}, "y2": {"datum": 117.97}}},
{"data": {"values": [{"lab": "East Shore"}]}, "mark": {"type": "text", "fontSize": 22.5, "color": "#1A1A1A"}, "encoding": {"x": {"datum": 9, "type": "quantitative"}, "y": {"datum": 107.81, "type": "quantitative"}, "text": {"field": "lab"}}},
{"data": {"values": [{"lab": "nearshore"}]}, "mark": {"type": "rect", "fill": "#D9D9D9", "stroke": "#333333", "strokeWidth": 1.1}, "encoding": {"x": {"datum": 14.6, "type": "quantitative"}, "x2": {"datum": 16.343}, "y": {"datum": -4.65, "type": "quantitative"}, "y2": {"datum": 97.65}}},
{"data": {"values": [{"lab": "nearshore"}]}, "mark": {"type": "text", "fontSize": 22.5, "angle": 90, "color": "#1A1A1A"}, "encoding": {"x": {"datum": 15.47, "type": "quantitative"}, "y": {"datum": 46.5, "type": "quantitative"}, "text": {"field": "lab"}}},
{"data": {"values": [{"lab": "border"}]}, "mark": {"type": "rect", "fill": "transparent", "stroke": "#333333", "strokeWidth": 1.1}, "encoding": {"x": {"datum": 3.4, "type": "quantitative"}, "x2": {"datum": 14.6}, "y": {"datum": -4.65, "type": "quantitative"}, "y2": {"datum": 97.65}}}
]},
{"width": 212, "height": 176.2, "layer": [
{"data": {"name": "counts"}, "transform": [{"filter": "datum.depth == 'shallow' && datum.shore == 'West Shore'"}, {"calculate": "indexof(['Neither','Lagged','Synchronous'], datum.cluster)", "as": "rank"}], "mark": {"type": "bar", "width": 16.3},
"encoding": {
"x": {"field": "month", "type": "quantitative", "scale": {"domain": [3.4, 14.6], "padding": 0, "nice": false, "zero": false}, "axis": {"title": null, "labels": false, "ticks": false, "titlePadding": 0, "minExtent": 0, "maxExtent": 0, "values": [4,5.5,7,8.5,10,11.5,13,14.5], "gridWidth": {"condition": {"test": "datum.value % 3 != 1", "value": 0.6}, "value": 1.2}}},
"y": {"field": "n", "type": "quantitative", "stack": "zero", "scale": {"domain": [-1.55, 32.55], "nice": false, "zero": false}, "axis": {"title": null, "labelOverlap": false, "values": [0,5,10,15,20,25,30], "labelExpr": "datum.value % 10 == 0 ? datum.label : ''", "tickOpacity": {"condition": {"test": "datum.value % 10 != 0", "value": 0}, "value": 1}, "gridWidth": {"condition": {"test": "datum.value % 10 != 0", "value": 0.6}, "value": 1.2}}},
"color": {"field": "cluster", "type": "nominal", "scale": {"domain": ["Synchronous","Lagged","Neither"], "range": ["#F8B739","#D4690F","#CCCCCC"]}, "legend": {"title": "Cluster", "orient": "none", "legendX": 1034, "legendY": 350}},
"order": {"field": "rank", "type": "quantitative"}}}
]},
{"width": 245, "height": 176.2, "view": {"stroke": null}, "layer": [
{"data": {"name": "counts"}, "transform": [{"filter": "datum.depth == 'shallow' && datum.shore == 'East Shore'"}, {"calculate": "indexof(['Neither','Lagged','Synchronous'], datum.cluster)", "as": "rank"}], "mark": {"type": "bar", "width": 16.3},
"encoding": {
"x": {"field": "month", "type": "quantitative", "scale": {"domain": [3.4, 14.6], "range": [0, 212], "padding": 0, "nice": false, "zero": false}, "axis": {"title": null, "labels": false, "ticks": false, "titlePadding": 0, "minExtent": 0, "maxExtent": 0, "values": [4,5.5,7,8.5,10,11.5,13,14.5], "gridWidth": {"condition": {"test": "datum.value % 3 != 1", "value": 0.6}, "value": 1.2}}},
"y": {"field": "n", "type": "quantitative", "stack": "zero", "scale": {"domain": [-1.55, 32.55], "nice": false, "zero": false}, "axis": {"title": null, "labels": false, "ticks": false, "titlePadding": 0, "minExtent": 0, "maxExtent": 0, "values": [0,5,10,15,20,25,30], "gridWidth": {"condition": {"test": "datum.value % 10 != 0", "value": 0.6}, "value": 1.2}}},
"color": {"field": "cluster", "type": "nominal", "scale": {"domain": ["Synchronous","Lagged","Neither"], "range": ["#F8B739","#D4690F","#CCCCCC"]}, "legend": {"title": "Cluster", "orient": "none", "legendX": 1034, "legendY": 350}},
"order": {"field": "rank", "type": "quantitative"}}},
{"data": {"values": [{"lab": "shallow"}]}, "mark": {"type": "rect", "fill": "#D9D9D9", "stroke": "#333333", "strokeWidth": 1.1}, "encoding": {"x": {"datum": 14.6, "type": "quantitative"}, "x2": {"datum": 16.343}, "y": {"datum": -1.55, "type": "quantitative"}, "y2": {"datum": 32.55}}},
{"data": {"values": [{"lab": "shallow"}]}, "mark": {"type": "text", "fontSize": 22.5, "angle": 90, "color": "#1A1A1A"}, "encoding": {"x": {"datum": 15.47, "type": "quantitative"}, "y": {"datum": 15.5, "type": "quantitative"}, "text": {"field": "lab"}}},
{"data": {"values": [{"lab": "border"}]}, "mark": {"type": "rect", "fill": "transparent", "stroke": "#333333", "strokeWidth": 1.1}, "encoding": {"x": {"datum": 3.4, "type": "quantitative"}, "x2": {"datum": 14.6}, "y": {"datum": -1.55, "type": "quantitative"}, "y2": {"datum": 32.55}}}
]},
{"width": 212, "height": 176.2, "layer": [
{"data": {"name": "counts"}, "transform": [{"filter": "datum.depth == 'mid' && datum.shore == 'West Shore'"}, {"calculate": "indexof(['Neither','Lagged','Synchronous'], datum.cluster)", "as": "rank"}], "mark": {"type": "bar", "width": 16.3},
"encoding": {
"x": {"field": "month", "type": "quantitative", "scale": {"domain": [3.4, 14.6], "padding": 0, "nice": false, "zero": false}, "axis": {"title": null, "labels": false, "ticks": false, "titlePadding": 0, "minExtent": 0, "maxExtent": 0, "values": [4,5.5,7,8.5,10,11.5,13,14.5], "gridWidth": {"condition": {"test": "datum.value % 3 != 1", "value": 0.6}, "value": 1.2}}},
"y": {"field": "n", "type": "quantitative", "stack": "zero", "scale": {"domain": [-1.55, 32.55], "nice": false, "zero": false}, "axis": {"title": null, "labelOverlap": false, "values": [0,5,10,15,20,25,30], "labelExpr": "datum.value % 10 == 0 ? datum.label : ''", "tickOpacity": {"condition": {"test": "datum.value % 10 != 0", "value": 0}, "value": 1}, "gridWidth": {"condition": {"test": "datum.value % 10 != 0", "value": 0.6}, "value": 1.2}}},
"color": {"field": "cluster", "type": "nominal", "scale": {"domain": ["Synchronous","Lagged","Neither"], "range": ["#F8B739","#D4690F","#CCCCCC"]}, "legend": {"title": "Cluster", "orient": "none", "legendX": 1034, "legendY": 350}},
"order": {"field": "rank", "type": "quantitative"}}}
]},
{"width": 245, "height": 176.2, "view": {"stroke": null}, "layer": [
{"data": {"name": "counts"}, "transform": [{"filter": "datum.depth == 'mid' && datum.shore == 'East Shore'"}, {"calculate": "indexof(['Neither','Lagged','Synchronous'], datum.cluster)", "as": "rank"}], "mark": {"type": "bar", "width": 16.3},
"encoding": {
"x": {"field": "month", "type": "quantitative", "scale": {"domain": [3.4, 14.6], "range": [0, 212], "padding": 0, "nice": false, "zero": false}, "axis": {"title": null, "labels": false, "ticks": false, "titlePadding": 0, "minExtent": 0, "maxExtent": 0, "values": [4,5.5,7,8.5,10,11.5,13,14.5], "gridWidth": {"condition": {"test": "datum.value % 3 != 1", "value": 0.6}, "value": 1.2}}},
"y": {"field": "n", "type": "quantitative", "stack": "zero", "scale": {"domain": [-1.55, 32.55], "nice": false, "zero": false}, "axis": {"title": null, "labels": false, "ticks": false, "titlePadding": 0, "minExtent": 0, "maxExtent": 0, "values": [0,5,10,15,20,25,30], "gridWidth": {"condition": {"test": "datum.value % 10 != 0", "value": 0.6}, "value": 1.2}}},
"color": {"field": "cluster", "type": "nominal", "scale": {"domain": ["Synchronous","Lagged","Neither"], "range": ["#F8B739","#D4690F","#CCCCCC"]}, "legend": {"title": "Cluster", "orient": "none", "legendX": 1034, "legendY": 350}},
"order": {"field": "rank", "type": "quantitative"}}},
{"data": {"values": [{"lab": "mid"}]}, "mark": {"type": "rect", "fill": "#D9D9D9", "stroke": "#333333", "strokeWidth": 1.1}, "encoding": {"x": {"datum": 14.6, "type": "quantitative"}, "x2": {"datum": 16.343}, "y": {"datum": -1.55, "type": "quantitative"}, "y2": {"datum": 32.55}}},
{"data": {"values": [{"lab": "mid"}]}, "mark": {"type": "text", "fontSize": 22.5, "angle": 90, "color": "#1A1A1A"}, "encoding": {"x": {"datum": 15.47, "type": "quantitative"}, "y": {"datum": 15.5, "type": "quantitative"}, "text": {"field": "lab"}}},
{"data": {"values": [{"lab": "border"}]}, "mark": {"type": "rect", "fill": "transparent", "stroke": "#333333", "strokeWidth": 1.1}, "encoding": {"x": {"datum": 3.4, "type": "quantitative"}, "x2": {"datum": 14.6}, "y": {"datum": -1.55, "type": "quantitative"}, "y2": {"datum": 32.55}}}
]},
{"width": 212, "height": 176.2, "layer": [
{"data": {"name": "counts"}, "transform": [{"filter": "datum.depth == 'deep' && datum.shore == 'West Shore'"}, {"calculate": "indexof(['Neither','Lagged','Synchronous'], datum.cluster)", "as": "rank"}], "mark": {"type": "bar", "width": 16.3},
"encoding": {
"x": {"field": "month", "type": "quantitative", "scale": {"domain": [3.4, 14.6], "padding": 0, "nice": false, "zero": false}, "axis": {"title": null, "labelOverlap": false, "values": [4,5.5,7,8.5,10,11.5,13,14.5], "labelExpr": "datum.value == 4 ? 'Apr' : datum.value == 7 ? 'Jul' : datum.value == 10 ? 'Oct' : datum.value == 13 ? 'Jan' : ''", "tickOpacity": {"condition": {"test": "datum.value % 3 != 1", "value": 0}, "value": 1}, "gridWidth": {"condition": {"test": "datum.value % 3 != 1", "value": 0.6}, "value": 1.2}}},
"y": {"field": "n", "type": "quantitative", "stack": "zero", "scale": {"domain": [-1.55, 32.55], "nice": false, "zero": false}, "axis": {"title": null, "labelOverlap": false, "values": [0,5,10,15,20,25,30], "labelExpr": "datum.value % 10 == 0 ? datum.label : ''", "tickOpacity": {"condition": {"test": "datum.value % 10 != 0", "value": 0}, "value": 1}, "gridWidth": {"condition": {"test": "datum.value % 10 != 0", "value": 0.6}, "value": 1.2}}},
"color": {"field": "cluster", "type": "nominal", "scale": {"domain": ["Synchronous","Lagged","Neither"], "range": ["#F8B739","#D4690F","#CCCCCC"]}, "legend": {"title": "Cluster", "orient": "none", "legendX": 1034, "legendY": 350}},
"order": {"field": "rank", "type": "quantitative"}}}
]},
{"width": 245, "height": 176.2, "view": {"stroke": null}, "layer": [
{"data": {"name": "counts"}, "transform": [{"filter": "datum.depth == 'deep' && datum.shore == 'East Shore'"}, {"calculate": "indexof(['Neither','Lagged','Synchronous'], datum.cluster)", "as": "rank"}], "mark": {"type": "bar", "width": 16.3},
"encoding": {
"x": {"field": "month", "type": "quantitative", "scale": {"domain": [3.4, 14.6], "range": [0, 212], "padding": 0, "nice": false, "zero": false}, "axis": {"title": null, "labelOverlap": false, "values": [4,5.5,7,8.5,10,11.5,13,14.5], "labelExpr": "datum.value == 4 ? 'Apr' : datum.value == 7 ? 'Jul' : datum.value == 10 ? 'Oct' : datum.value == 13 ? 'Jan' : ''", "tickOpacity": {"condition": {"test": "datum.value % 3 != 1", "value": 0}, "value": 1}, "gridWidth": {"condition": {"test": "datum.value % 3 != 1", "value": 0.6}, "value": 1.2}}},
"y": {"field": "n", "type": "quantitative", "stack": "zero", "scale": {"domain": [-1.55, 32.55], "nice": false, "zero": false}, "axis": {"title": null, "labels": false, "ticks": false, "titlePadding": 0, "minExtent": 0, "maxExtent": 0, "values": [0,5,10,15,20,25,30], "gridWidth": {"condition": {"test": "datum.value % 10 != 0", "value": 0.6}, "value": 1.2}}},
"color": {"field": "cluster", "type": "nominal", "scale": {"domain": ["Synchronous","Lagged","Neither"], "range": ["#F8B739","#D4690F","#CCCCCC"]}, "legend": {"title": "Cluster", "orient": "none", "legendX": 1034, "legendY": 350}},
"order": {"field": "rank", "type": "quantitative"}}},
{"data": {"values": [{"lab": "deep"}]}, "mark": {"type": "rect", "fill": "#D9D9D9", "stroke": "#333333", "strokeWidth": 1.1}, "encoding": {"x": {"datum": 14.6, "type": "quantitative"}, "x2": {"datum": 16.343}, "y": {"datum": -1.55, "type": "quantitative"}, "y2": {"datum": 32.55}}},
{"data": {"values": [{"lab": "deep"}]}, "mark": {"type": "text", "fontSize": 22.5, "angle": 90, "color": "#1A1A1A"}, "encoding": {"x": {"datum": 15.47, "type": "quantitative"}, "y": {"datum": 15.5, "type": "quantitative"}, "text": {"field": "lab"}}},
{"data": {"values": [{"lab": "border"}]}, "mark": {"type": "rect", "fill": "transparent", "stroke": "#333333", "strokeWidth": 1.1}, "encoding": {"x": {"datum": 3.4, "type": "quantitative"}, "x2": {"datum": 14.6}, "y": {"datum": -1.55, "type": "quantitative"}, "y2": {"datum": 32.55}}}
]}
]
}
]
}
]
}
],
"config": {
"font": "Liberation Sans",
"view": {"stroke": "#333333", "strokeWidth": 1.1},
"axis": {"domain": false, "gridColor": "#EBEBEB", "gridWidth": 1.2, "tickColor": "#333333", "tickSize": 5, "tickWidth": 1.1, "labelColor": "#4D4D4D", "labelFontSize": 21.5, "labelPadding": 3, "titleFontSize": 28, "titleFontWeight": "normal", "titleColor": "#000000", "labelOverlap": false, "labelFlush": false, "labelBound": false},
"title": {"fontSize": 30, "fontWeight": "normal", "anchor": "start", "frame": "group", "color": "#000000"},
"legend": {"titleFontSize": 28, "titleFontWeight": "normal", "titleColor": "#000000", "labelFontSize": 22, "labelColor": "#000000", "symbolType": "square", "symbolSize": 700, "symbolStrokeWidth": 0, "symbolOpacity": 1, "rowPadding": 0, "titlePadding": 3, "labelOffset": 11}
}
}
